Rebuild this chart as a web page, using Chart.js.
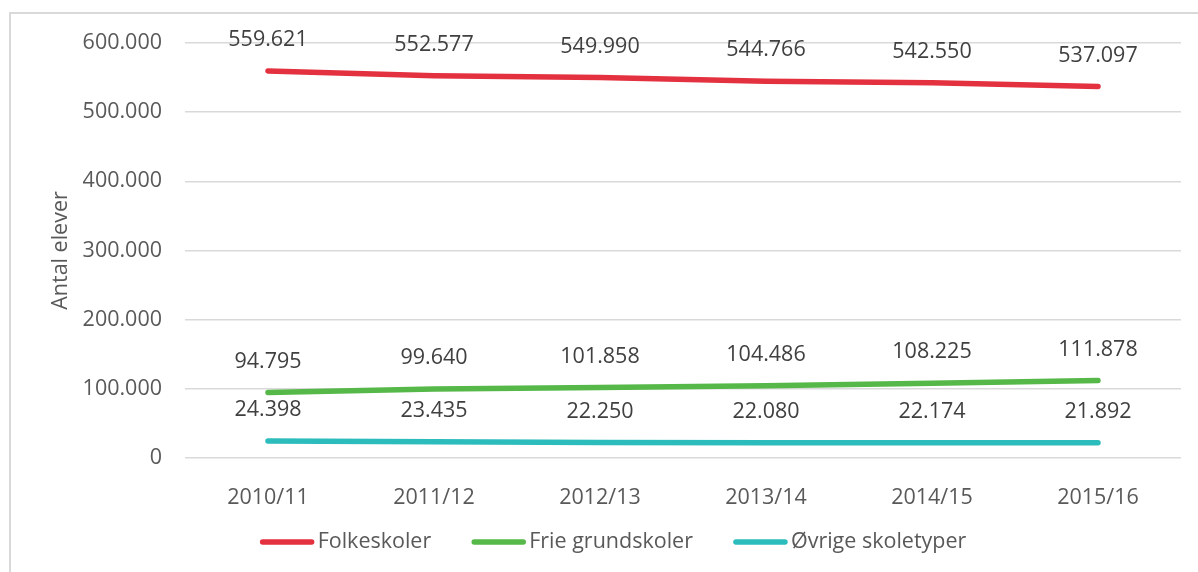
<!DOCTYPE html>
<html>
<head>
<meta charset="utf-8">
<script src="https://cdn.jsdelivr.net/npm/chart.js@4/dist/chart.umd.min.js"></script>
<style>
  body { margin: 0; background: #fff; overflow: hidden; }
  #frame { position: absolute; left: 9px; top: 12px; width: 1300px; height: 700px; border: 2px solid #d9d9d9; }
  #wrap { position: absolute; left: 0; top: 0; width: 1198px; height: 572px; }
</style>
</head>
<body>
<div id="frame"></div>
<div id="wrap"><canvas id="chart" width="1198" height="572"></canvas></div>
<script>
var years = ['2010/11', '2011/12', '2012/13', '2013/14', '2014/15', '2015/16'];
var folkeskoler = [559621, 552577, 549990, 544766, 542550, 537097];
var frieGrundskoler = [94795, 99640, 101858, 104486, 108225, 111878];
var oevrige = [24398, 23435, 22250, 22080, 22174, 21892];
var seriesNames = ['Folkeskoler', 'Frie grundskoler', 'Øvrige skoletyper'];
var seriesColors = ['#e4313f', '#56b848', '#2dbcbc'];

var FONT = '"Open Sans", sans-serif';
var SIZE = 21.5;

function fmt(v) {
    return v.toString().replace(/\B(?=(\d{3})+(?!\d))/g, '.');
}

// values above each point
var valueLabels = {
    id: 'valueLabels',
    afterDatasetsDraw: function(chart) {
        var ctx = chart.ctx;
        ctx.save();
        ctx.font = SIZE + 'px ' + FONT;
        ctx.fillStyle = '#404040';
        ctx.textAlign = 'center';
        ctx.textBaseline = 'middle';
        chart.data.datasets.forEach(function(ds, i) {
            chart.getDatasetMeta(i).data.forEach(function(pt, j) {
                ctx.fillText(fmt(ds.data[j]), pt.x, pt.y - 31);
            });
        });
        ctx.restore();
    }
};

// legend at the bottom with line samples
var lineLegend = {
    id: 'lineLegend',
    afterDraw: function(chart) {
        var ctx = chart.ctx;
        ctx.save();
        ctx.font = SIZE + 'px ' + FONT;
        var lineLen = 55, gap = 3, space = 40;
        var total = 0;
        seriesNames.forEach(function(n, i) {
            total += lineLen + gap + ctx.measureText(n).width;
            if (i > 0) total += space;
        });
        var x = 613 - total / 2;
        var y = 542;
        seriesNames.forEach(function(n, i) {
            ctx.strokeStyle = seriesColors[i];
            ctx.lineWidth = 5.5;
            ctx.lineCap = 'round';
            ctx.beginPath();
            ctx.moveTo(x + 3, y);
            ctx.lineTo(x + lineLen - 3, y);
            ctx.stroke();
            x += lineLen + gap;
            ctx.fillStyle = '#595959';
            ctx.textAlign = 'left';
            ctx.textBaseline = 'middle';
            ctx.fillText(n, x, y);
            x += ctx.measureText(n).width + space;
        });
        ctx.restore();
    }
};

var ctx = document.getElementById('chart').getContext('2d');
new Chart(ctx, {
    type: 'line',
    data: {
        labels: years,
        datasets: [folkeskoler, frieGrundskoler, oevrige].map(function(d, i) {
            return {
                label: seriesNames[i],
                data: d,
                borderColor: seriesColors[i],
                backgroundColor: seriesColors[i],
                borderWidth: 5.5,
                borderCapStyle: 'round',
                pointRadius: 0,
                tension: 0
            };
        })
    },
    options: {
        responsive: false,
        animation: false,
        layout: { padding: { left: 0, right: 17, top: 43, bottom: 0 } },
        plugins: { legend: { display: false }, tooltip: { enabled: false } },
        scales: {
            x: {
                offset: true,
                grid: { display: false },
                border: { display: false },
                ticks: { color: '#595959', font: { family: FONT, size: SIZE }, padding: 19, maxRotation: 0 },
                afterFit: function(s) { s.height = 114; }
            },
            y: {
                min: 0,
                max: 600000,
                grid: { color: '#d9d9d9', lineWidth: 1.5, drawTicks: false },
                border: { display: false },
                ticks: {
                    stepSize: 100000,
                    color: '#595959',
                    font: { family: FONT, size: SIZE },
                    padding: 23,
                    callback: function(v) { return fmt(v); }
                },
                title: {
                    display: true,
                    text: 'Antal elever',
                    color: '#595959',
                    font: { family: FONT, size: SIZE },
                    padding: { top: 48, bottom: 0 }
                },
                afterFit: function(s) { s.width = 185; }
            }
        }
    },
    plugins: [valueLabels, lineLegend]
});
</script>
</body>
</html>
